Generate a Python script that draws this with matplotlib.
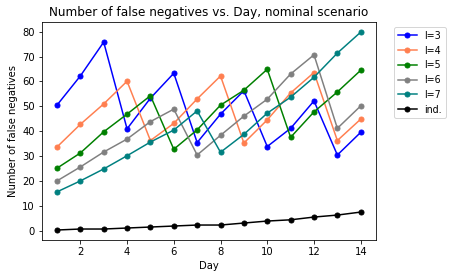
import matplotlib.pyplot as plt

days = list(range(1, 15))
l3 = [50.5, 62.2, 75.8, 41, 53.3, 63.3, 35.5, 46.9, 56.3, 33.9, 41.2, 52.2, 30.5, 39.6]
l4 = [33.7, 42.8, 51, 60.1, 36.3, 43.2, 53, 62.2, 35.3, 44.6, 55.4, 63.6, 36.3, 44.9]
l5 = [25.2, 31.3, 39.8, 46.9, 54.3, 32.8, 40.6, 50.5, 56.5, 64.9, 37.6, 47.8, 55.8, 64.5]
l6 = [20.1, 25.7, 31.7, 36.9, 43.9, 48.9, 30.5, 38.4, 46.1, 52.9, 63, 70.7, 41.2, 50.2]
l7 = [15.7, 20.1, 24.9, 30.2, 35.7, 40.5, 48.2, 31.6, 38.8, 47.3, 53.7, 61.7, 71.4, 79.8]
ind = [0.4, 0.8, 0.8, 1.2, 1.6, 2, 2.4, 2.4, 3.2, 4, 4.5, 5.6, 6.4, 7.6]

series = [('l=3', l3, 'blue'), ('l=4', l4, 'coral'), ('l=5', l5, 'green'),
          ('l=6', l6, 'grey'), ('l=7', l7, 'teal'), ('ind.', ind, 'black')]

# 72 dpi so the default 10pt text comes out at the reference's size
fig = plt.figure(figsize=(454 / 72, 278 / 72), dpi=72)
ax = fig.add_axes([0.092, 0.137, 0.736, 0.783])
for name, vals, c in series:
    ax.plot(days, vals, marker='o', markersize=5, color=c, label=name)

ax.set_title('Number of false negatives vs. Day, nominal scenario')
ax.set_xlabel('Day')
ax.set_ylabel('Number of false negatives')
ax.set_xticks([2, 4, 6, 8, 10, 12, 14])
ax.legend(loc='upper left', bbox_to_anchor=(1.04, 1.0), fontsize=9.5)
fig.savefig('out.png')
